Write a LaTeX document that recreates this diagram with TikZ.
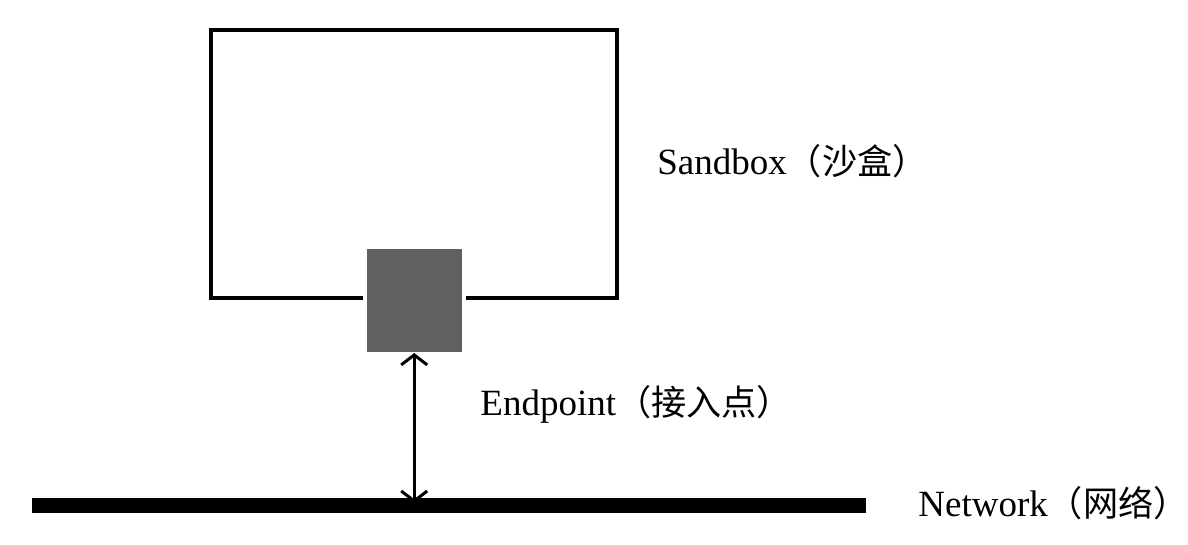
\documentclass[tikz,border=0pt]{standalone}
\usepackage{fontspec}
\setmainfont{Liberation Serif}
\newfontfamily\cjk[Scale=0.95]{Noto Sans CJK SC}
\usetikzlibrary{arrows.meta,positioning}
\definecolor{endgray}{HTML}{606060}
\tikzset{
  labeltext/.style={anchor=base west, inner sep=0pt, font=\fontsize{18.5}{22}\selectfont},
  boxline/.style={draw, line width=2pt, inner sep=0pt},
}
\begin{document}
\begin{tikzpicture}[x=0.5pt,y=-0.5pt]
\useasboundingbox (0,0) rectangle (1188,545);
% sandbox and its endpoint
\node[boxline, minimum width=203.25pt, minimum height=134pt] (sandbox) at (413.75,164) {};
\node[fill=endgray, draw=white, line width=2pt, outer sep=0pt, inner sep=0pt,
      minimum width=49.5pt, minimum height=53.5pt] (endpoint) at (414.2,300.5) {};
% network bar
\node[fill=black, inner sep=0pt, minimum width=417pt, minimum height=7.5pt] (network) at (449,505.8) {};
\draw[line width=1.5pt, {Straight Barb[length=5pt,width=13pt]}-{Straight Barb[length=5pt,width=13pt]}]
  ([yshift=0.5pt]endpoint.south) -- ([yshift=-2.5pt]network.north -| endpoint.south);
% labels
\node[labeltext] (sandboxlabel) at (657,175) {Sandbox{\cjk （沙盒）}};
\node[labeltext] (endpointlabel) at (480,415.7) {Endpoint{\cjk （接入点）}};
\node[labeltext] (networklabel) at (918,516.7) {Network{\cjk （网络）}};
\end{tikzpicture}
\end{document}
